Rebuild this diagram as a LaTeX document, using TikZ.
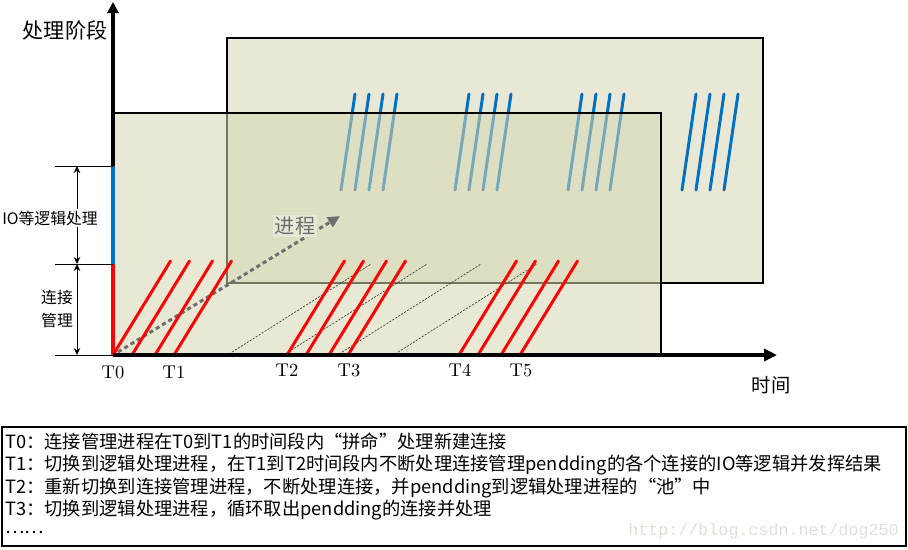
\documentclass[tikz,border=0pt]{standalone}
\usepackage{fontspec}
\usepackage{xcolor}
\usetikzlibrary{arrows.meta}
\newfontfamily\cjk{Noto Sans CJK SC}
\setmonofont{Liberation Mono}
\definecolor{beige}{HTML}{E9E8D7}
\definecolor{beigeosc}{RGB}{214,214,178}
\definecolor{azul}{HTML}{0070C0}
\definecolor{rojo}{HTML}{FF0000}
\definecolor{gris}{HTML}{6E6E6E}
\definecolor{marca}{HTML}{DFDFD6}

\begin{document}
\begin{tikzpicture}[
  x=0.02cm, y=-0.02cm,
  font=\cjk,
  panel/.style={draw=black, line width=0.6pt},
  eje/.style={line width=2pt, -{Triangle[length=2.6mm, width=2.4mm]}},
  conn/.style={rojo, line width=1.7pt, line cap=round},
  logic/.style={azul, line width=1.7pt, line cap=round},
  hilo/.style={black!75, line width=0.4pt, dash pattern=on 1.2pt off 0.8pt},
  flecha/.style={gris, line width=1.7pt, dash pattern=on 2.4pt off 1.8pt,
    -{Triangle[length=2.4mm, width=2.2mm]}},
  cota/.style={{Stealth[length=1.4mm, width=1.3mm]}-{Stealth[length=1.4mm, width=1.3mm]}, line width=0.5pt},
  tlabel/.style={font=\rmfamily\fontsize{10.5}{12}\selectfont},
  nota/.style={anchor=west, inner sep=0pt, font=\cjk\fontsize{10.4}{12}\selectfont},
]
\useasboundingbox (0,0) rectangle (908,549);

\coordinate (O) at (113,355);
\coordinate (ytop) at (113,2);
\coordinate (xend) at (777,355);

% --- Panel de fondo (proceso logico) ---
\draw[panel, fill=beige] (227,38) rectangle (763,283);

% --- Trazos IO / logica ---
\foreach \g in {355,469,582,696}
  \foreach \d in {0,14,28,42}
    \draw[logic] (\g+\d,94) -- (\g+\d-14,190);

% --- Panel delantero (gestion de conexiones) ---
\fill[beigeosc, fill opacity=0.55] (113,113) rectangle (661,355);
\draw[panel] (113,113) rectangle (661,355);

% --- Lineas finas ---
\foreach \b in {229,285,339,395}
  \draw[hilo] (\b,354) -- (\b+142,264);

% --- Flecha de proceso ---
\coordinate (pa) at (118,352);
\coordinate (pb) at (340,216);
\draw[flecha] (pa) -- (pb);
\node[fill=beige, inner sep=1pt, text=gris, font=\cjk\fontsize{11.5}{13}\selectfont] (proc) at (295,226) {进程};

% --- Trazos de conexion ---
\foreach \g in {113,287,459}
  \foreach \d in {0,19,42,61}
    \draw[conn] (\g+\d,355) -- (\g+\d+57.5,261);

% --- Ejes ---
\draw[eje, -{Triangle[length=2.2mm, width=2.2mm]}] (O) -- (ytop);
\draw[azul, line width=2pt] (113,166) -- (113,264);
\draw[rojo, line width=2pt] (113,264) -- (O);
\draw[eje] (O) -- (xend);
\node[font=\cjk\fontsize{12}{14}\selectfont] (ylab) at (65,30) {处理阶段};
\node[font=\cjk\fontsize{11}{13}\selectfont] (xlab) at (771,385) {时间};

% --- Cotas ---
\foreach \y in {166,264,355}
  \draw[line width=0.5pt] (55,\y) -- (113,\y);
\draw[cota] (77,166) -- (77,264);
\draw[cota] (77,264) -- (77,355);
\node[fill=white, inner sep=1pt, font=\cjk\fontsize{9}{11}\selectfont] (io) at (50,218) {IO等逻辑处理};
\node[fill=white, inner sep=1pt, align=center, font=\cjk\fontsize{9}{13}\selectfont] (lj) at (57,309) {连接\\管理};

% --- Instantes ---
\node[tlabel] (t0) at (113,372) {T0};
\node[tlabel] (t1) at (174,372) {T1};
\node[tlabel] (t2) at (287,370) {T2};
\node[tlabel] (t3) at (349,370) {T3};
\node[tlabel] (t4) at (460,370) {T4};
\node[tlabel] (t5) at (521,370) {T5};

% --- Leyenda ---
\draw[line width=0.6pt] (2,427) rectangle (906,546);
\node[nota] (n0) at (5,441) {T0：连接管理进程在T0到T1的时间段内“拼命”处理新建连接};
\node[nota] (n1) at (5,465) {T1：切换到逻辑处理进程，在T1到T2时间段内不断处理连接管理pendding的各个连接的IO等逻辑并发挥结果};
\node[nota] (n2) at (5,488) {T2：重新切换到连接管理进程，不断处理连接，并pendding到逻辑处理进程的“池”中};
\node[nota] (n3) at (5,510) {T3：切换到逻辑处理进程，循环取出pendding的连接并处理};
\node[nota] (n4) at (5,532) {……};
\node[anchor=base west, inner sep=0pt, text=marca, font=\ttfamily\fontsize{9.5}{11}\selectfont] (wm) at (628,535) {http://blog.csdn.net/dog250};

\end{tikzpicture}
\end{document}
